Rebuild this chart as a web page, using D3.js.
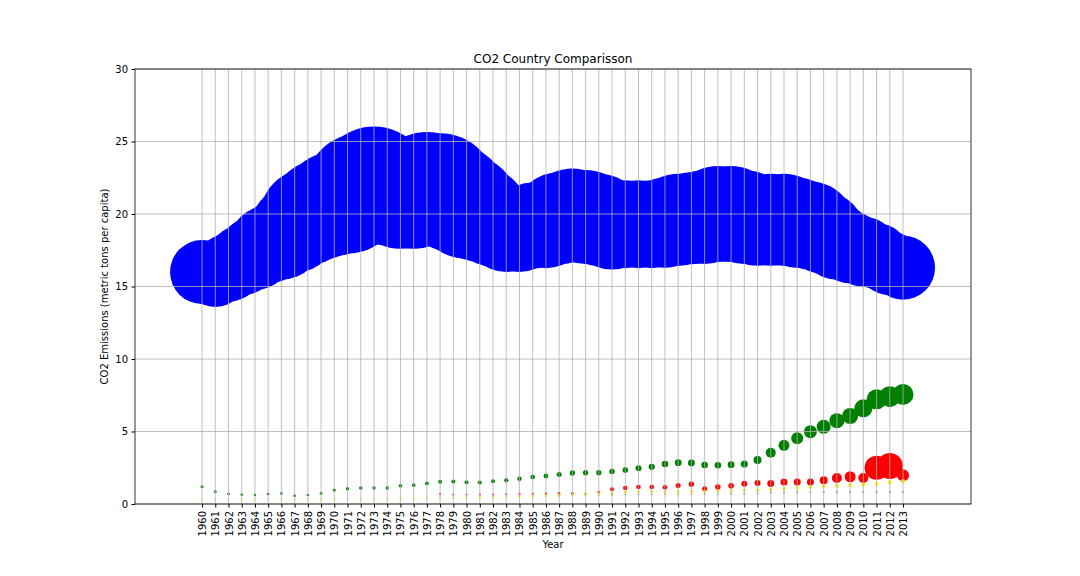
<!DOCTYPE html>
<html>
<head>
<meta charset="utf-8">
<script src="https://cdn.jsdelivr.net/npm/d3@7"></script>
<style>
  body { margin: 0; background: #fff; }
  text { font-family: "DejaVu Sans", sans-serif; }
</style>
</head>
<body>
<svg id="chart" width="1080" height="576"></svg>
<script>
const width = 1080;
const height = 576;
const margin = {top: 69, right: 109, bottom: 72, left: 135};

const years = d3.range(1960, 2014);
const yTicks = [0, 5, 10, 15, 20, 25, 30];

// per capita values
const usa = [16.0, 15.8, 16.3, 16.8, 17.3, 17.9, 18.3, 19.0, 19.8, 20.3,
  20.7, 21.0, 21.7, 22.1, 21.7, 21.4, 21.4, 21.8, 21.7, 21.1,
  20.5, 20.0, 19.4, 18.9, 18.9, 19.2, 19.3, 19.7, 19.9, 19.8,
  19.6, 19.2, 19.3, 19.3, 19.3, 19.4, 19.6, 19.7, 19.8, 20.0,
  20.0, 19.8, 19.6, 19.6, 19.6, 19.4, 19.2, 18.7, 18.1, 17.7,
  17.4, 17.1, 16.6, 16.3];
const green = [1.19, 0.85, 0.69, 0.64, 0.62, 0.69, 0.73, 0.57, 0.62, 0.73,
  0.96, 1.05, 1.10, 1.10, 1.10, 1.26, 1.30, 1.42, 1.53, 1.55,
  1.50, 1.48, 1.57, 1.63, 1.74, 1.86, 1.93, 2.04, 2.14, 2.16,
  2.16, 2.25, 2.34, 2.46, 2.57, 2.76, 2.85, 2.83, 2.69, 2.67,
  2.71, 2.76, 3.03, 3.54, 4.05, 4.53, 4.99, 5.33, 5.75, 6.07,
  6.60, 7.22, 7.40, 7.56];
const red = [null, null, null, null, null, null, null, null, null, null,
  null, null, null, null, null, null, null, null, 0.69, 0.65,
  0.65, 0.66, 0.66, 0.67, 0.68, 0.70, 0.71, 0.74, 0.74, 0.70,
  0.81, 1.01, 1.10, 1.17, 1.17, 1.15, 1.28, 1.37, 1.05, 1.17,
  1.26, 1.40, 1.44, 1.42, 1.51, 1.51, 1.51, 1.63, 1.79, 1.88,
  1.79, 2.50, 2.62, 1.98];
const yellow = [0.28, 0.28, 0.29, 0.29, 0.30, 0.30, 0.30, 0.30, 0.31, 0.31,
  0.32, 0.33, 0.34, 0.35, 0.36, 0.37, 0.38, 0.39, 0.40, 0.42,
  0.44, 0.46, 0.48, 0.50, 0.52, 0.54, 0.56, 0.60, 0.64, 0.68,
  0.72, 0.76, 0.80, 0.82, 0.84, 0.85, 0.86, 0.88, 0.88, 0.90,
  0.92, 0.94, 0.96, 1.01, 1.05, 1.10, 1.15, 1.20, 1.26, 1.30,
  1.35, 1.40, 1.50, 1.58];
const gray = [null, null, null, null, null, null, null, null, null, null,
  null, null, null, null, null, null, null, null, null, null,
  null, null, null, null, null, null, null, 0.55, 0.58, 0.60,
  0.62, 0.63, 0.64, 0.65, 0.66, 0.67, 0.67, 0.68, 0.68, 0.69,
  0.70, 0.72, 0.74, 0.80, 0.80, 0.81, 0.82, 0.82, 0.83, 0.83,
  0.84, 0.84, 0.85, 0.85];

// marker sizes (relative)
const usaSize = [32, 32, 34, 35, 37, 39, 41, 44, 48, 50,
  52, 54, 56, 57, 56, 55, 55, 56, 56, 54,
  52, 48, 44, 42, 42, 43, 44, 46, 47, 47,
  46, 44, 44, 44, 44, 45, 46, 46, 47, 48,
  48, 47, 46, 46, 46, 45, 44, 41, 38, 36,
  35, 33, 32, 32];
const greenSize = [1.5, 1.4, 1.3, 1.3, 1.3, 1.3, 1.3, 1.3, 1.3, 1.4,
  1.6, 1.7, 1.7, 1.7, 1.7, 1.8, 1.8, 1.9, 2.0, 2.0,
  2.0, 2.0, 2.0, 2.1, 2.2, 2.3, 2.4, 2.5, 2.6, 2.6,
  2.6, 2.7, 2.8, 3.0, 3.1, 3.3, 3.4, 3.4, 3.3, 3.3,
  3.4, 3.5, 4.0, 5.0, 5.5, 6.0, 6.5, 7.0, 7.5, 8.0,
  9.0, 10.0, 10.5, 10.5];
const redSize = [0, 0, 0, 0, 0, 0, 0, 0, 0, 0,
  0, 0, 0, 0, 0, 0, 0, 0, 1.0, 1.0,
  1.0, 1.0, 1.0, 1.0, 1.1, 1.1, 1.1, 1.2, 1.2, 1.2,
  1.3, 2.0, 2.2, 2.3, 2.3, 2.3, 2.5, 2.7, 2.5, 2.7,
  2.8, 3.0, 3.0, 3.5, 3.5, 3.5, 3.5, 4.0, 5.0, 5.5,
  5.0, 12.0, 13.0, 6.0];
const yellowSize = [0.9, 0.9, 0.9, 0.9, 0.9, 0.9, 0.9, 0.9, 0.9, 0.9,
  1.0, 1.0, 1.0, 1.0, 1.0, 1.0, 1.0, 1.0, 1.0, 1.1,
  1.1, 1.1, 1.1, 1.1, 1.2, 1.2, 1.2, 1.3, 1.3, 1.3,
  1.3, 1.3, 1.4, 1.4, 1.4, 1.4, 1.5, 1.5, 1.5, 1.5,
  1.5, 1.5, 1.6, 1.6, 1.7, 1.7, 1.8, 1.8, 1.9, 1.9,
  2.0, 2.0, 2.1, 2.1];
const graySize = [0, 0, 0, 0, 0, 0, 0, 0, 0, 0,
  0, 0, 0, 0, 0, 0, 0, 0, 0, 0,
  0, 0, 0, 0, 0, 0, 0, 0.7, 0.7, 0.7,
  0.7, 0.8, 0.8, 0.8, 0.8, 0.8, 0.8, 0.8, 0.8, 0.8,
  0.9, 0.9, 0.9, 0.9, 0.9, 0.9, 0.9, 1.0, 1.0, 1.0,
  1.0, 1.0, 1.0, 1.0];

const series = [
  {values: usa, sizes: usaSize, color: '#0000ff'},
  {values: green, sizes: greenSize, color: '#008000'},
  {values: red, sizes: redSize, color: '#ff0000'},
  {values: yellow, sizes: yellowSize, color: '#ffee00'},
  {values: gray, sizes: graySize, color: '#808080'}
];

const svg = d3.select('#chart');
const x0 = margin.left, x1 = width - margin.right;
const y0 = height - margin.bottom, y1 = margin.top;

// 1960 sits ~67px inside the left edge
const xScale = d3.scaleLinear().domain([1954.93, 2018.14]).range([x0, x1]);
const yScale = d3.scaleLinear().domain([0, 30]).range([y0, y1]);
const rScale = d3.scaleLinear().domain([0, 60]).range([0, 60]);

const clip = svg.append('clipPath').attr('id', 'clip')
  .append('rect').attr('x', x0).attr('y', y1).attr('width', x1 - x0).attr('height', y0 - y1);

const plot = svg.append('g').attr('clip-path', 'url(#clip)');

series.forEach(s => {
  const pts = years.map((yr, i) => ({yr, v: s.values[i], r: s.sizes[i]}))
    .filter(d => d.v != null && d.r > 0);
  plot.append('g').selectAll('circle').data(pts).join('circle')
    .attr('cx', d => xScale(d.yr))
    .attr('cy', d => yScale(d.v))
    .attr('r', d => rScale(d.r))
    .attr('fill', s.color);
});

// grid on top of markers, like the original
const grid = svg.append('g').attr('stroke', '#b0b0b0').attr('stroke-width', 0.8);
grid.selectAll('.vx').data(years).join('line')
  .attr('x1', d => xScale(d)).attr('x2', d => xScale(d))
  .attr('y1', y1).attr('y2', y0);
grid.selectAll('.hy').data(yTicks).join('line')
  .attr('x1', x0).attr('x2', x1)
  .attr('y1', d => yScale(d)).attr('y2', d => yScale(d));

const xAxis = d3.axisBottom(xScale).tickValues(years).tickFormat(d3.format('d'))
  .tickSize(3.5).tickPadding(3.5);
const gx = svg.append('g').attr('transform', `translate(0,${y0})`).call(xAxis);
gx.select('.domain').remove();
gx.selectAll('text')
  .attr('transform', 'rotate(-90)')
  .attr('text-anchor', 'end')
  .attr('x', -7).attr('y', 0).attr('dy', '0.35em')
  .style('font-size', '10px').attr('fill', '#000');

const yAxis = d3.axisLeft(yScale).tickValues(yTicks).tickSize(3.5).tickPadding(3.5);
const gy = svg.append('g').attr('transform', `translate(${x0},0)`).call(yAxis);
gy.select('.domain').remove();
gy.selectAll('text').style('font-size', '10px').attr('fill', '#000');

svg.append('rect').attr('x', x0).attr('y', y1)
  .attr('width', x1 - x0).attr('height', y0 - y1)
  .attr('fill', 'none').attr('stroke', '#000').attr('stroke-width', 0.8);

svg.append('text').attr('x', (x0 + x1) / 2).attr('y', 63)
  .attr('text-anchor', 'middle').style('font-size', '12px')
  .text('CO2 Country Comparisson');

svg.append('text').attr('x', (x0 + x1) / 2).attr('y', 548)
  .attr('text-anchor', 'middle').style('font-size', '10px')
  .text('Year');

svg.append('text')
  .attr('transform', `translate(108,${(y0 + y1) / 2}) rotate(-90)`)
  .attr('text-anchor', 'middle').style('font-size', '10px')
  .text('CO2 Emissions (metric tons per capita)');
</script>
</body>
</html>
